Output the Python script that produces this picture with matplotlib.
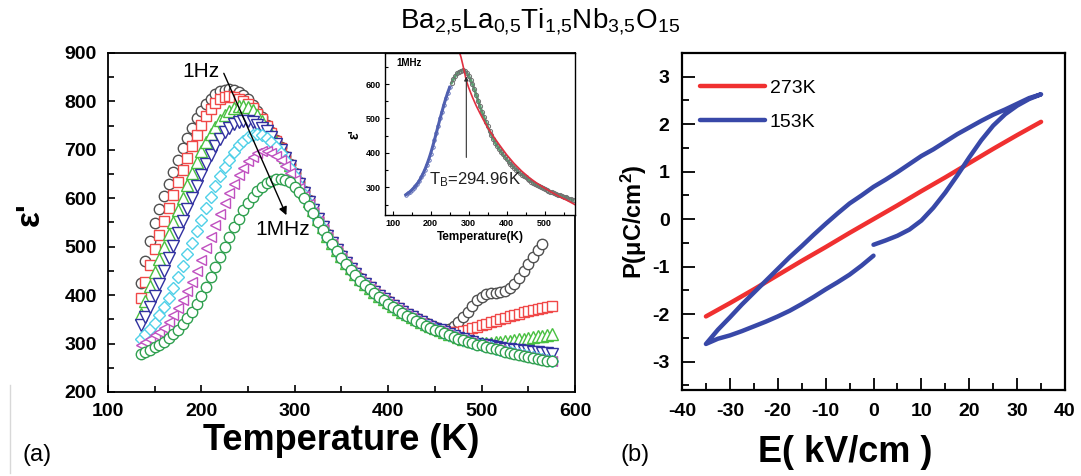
import matplotlib
matplotlib.use("Agg")
import matplotlib.pyplot as plt
from matplotlib.ticker import MultipleLocator
from matplotlib.lines import Line2D

plt.rcParams['font.family'] = ['Liberation Sans', 'DejaVu Sans']
plt.rcParams['mathtext.fontset'] = 'custom'
plt.rcParams['mathtext.rm'] = 'Liberation Sans'
plt.rcParams['mathtext.it'] = 'Liberation Sans:italic'
plt.rcParams['mathtext.bf'] = 'Liberation Sans:bold'
plt.rcParams['axes.unicode_minus'] = False

# (a) permittivity vs temperature, 1Hz ... 1MHz, read every 5 K
temp = list(range(135, 580, 5))

eps_1 = [425, 470, 512, 548, 578, 604, 630, 655, 679, 703,
         725, 746, 765, 781, 795, 806, 815, 821, 824, 825,
         824, 820, 813, 804, 793, 781, 767, 752, 737, 721,
         705, 688, 670, 652, 633, 614, 596, 578, 560, 543,
         526, 510, 496, 482, 469, 457, 446, 435, 426, 417,
         409, 401, 394, 387, 380, 374, 368, 362, 357, 352,
         347, 342, 338, 334, 331, 329, 331, 337, 345, 355,
         366, 378, 389, 397, 402, 404, 405, 406, 409, 414,
         423, 435, 449, 464, 479, 493, 505]
eps_2 = [395, 428, 462, 495, 525, 553, 580, 607, 633, 659,
         684, 708, 731, 752, 770, 785, 797, 805, 810, 811,
         810, 806, 801, 795, 786, 775, 763, 749, 734, 719,
         703, 686, 669, 651, 632, 613, 595, 577, 559, 542,
         524, 509, 495, 481, 468, 456, 445, 434, 425, 416,
         408, 400, 393, 386, 379, 373, 367, 361, 356, 351,
         346, 341, 337, 333, 329, 326, 324, 323, 324, 326,
         329, 332, 335, 338, 341, 344, 347, 350, 353, 356,
         359, 362, 365, 367, 370, 372, 374, 376, 378]
eps_3 = [362, 388, 418, 447, 474, 500, 526, 551, 576, 601,
         627, 652, 675, 697, 716, 733, 748, 761, 771, 780,
         786, 790, 791, 789, 783, 772, 760, 746, 732, 717,
         701, 685, 668, 650, 631, 612, 594, 576, 558, 541,
         523, 508, 494, 480, 467, 455, 444, 433, 424, 415,
         407, 399, 392, 385, 378, 372, 366, 360, 355, 350,
         345, 340, 336, 332, 328, 324, 320, 317, 313, 310,
         307, 305, 303, 302, 302, 302, 303, 304, 305, 306,
         307, 309, 310, 312, 313, 315, 316, 318, 320]
eps_4 = [338, 355, 376, 399, 424, 450, 476, 502, 528, 553,
         577, 601, 625, 648, 670, 690, 708, 723, 736, 746,
         753, 758, 760, 760, 757, 752, 746, 738, 726, 713,
         699, 683, 666, 648, 630, 611, 593, 575, 557, 540,
         522, 507, 493, 479, 466, 454, 443, 432, 423, 414,
         406, 398, 391, 384, 377, 371, 365, 359, 354, 349,
         344, 339, 335, 331, 327, 323, 319, 316, 312, 309,
         306, 303, 300, 298, 296, 294, 292, 291, 289, 288,
         287, 286, 285, 284, 283, 282, 281, 280, 279]
eps_5 = [310, 320, 331, 343, 358, 375, 394, 415, 437, 460,
         484, 508, 532, 556, 580, 603, 626, 646, 664, 680,
         696, 709, 719, 726, 730, 733, 731, 724, 716, 705,
         693, 678, 662, 645, 628, 609, 591, 573, 556, 539,
         521, 506, 492, 478, 465, 453, 442, 431, 422, 413,
         405, 397, 390, 383, 376, 370, 364, 358, 353, 348,
         343, 338, 334, 330, 326, 322, 318, 315, 311, 308,
         305, 302, 299, 297, 294, 292, 289, 287, 284, 282,
         280, 278, 276, 274, 272, 270, 268, 266, 264]
eps_6 = [298, 304, 310, 317, 324, 333, 344, 358, 373, 390,
         408, 428, 450, 473, 497, 521, 545, 568, 590, 611,
         630, 648, 663, 676, 686, 693, 697, 698, 694, 688,
         678, 666, 653, 638, 622, 605, 588, 571, 554, 537,
         520, 505, 491, 477, 464, 452, 441, 430, 421, 412,
         404, 396, 389, 382, 375, 369, 363, 357, 352, 347,
         342, 337, 333, 329, 325, 321, 317, 314, 310, 307,
         304, 301, 298, 296, 293, 291, 288, 286, 283, 281,
         279, 277, 275, 273, 271, 269, 267, 265, 263]
eps_7 = [279, 283, 287, 292, 298, 304, 311, 319, 329, 340,
         352, 366, 381, 398, 417, 437, 458, 479, 500, 520,
         540, 558, 575, 590, 603, 614, 623, 631, 636, 639,
         640, 638, 633, 624, 613, 600, 585, 569, 552, 535,
         520, 505, 491, 477, 464, 452, 441, 430, 421, 412,
         404, 396, 389, 382, 375, 369, 363, 357, 352, 347,
         342, 337, 333, 329, 325, 321, 317, 314, 310, 307,
         304, 301, 298, 296, 293, 291, 288, 286, 283, 281,
         279, 277, 275, 273, 271, 269, 267, 265, 263]

series = [(eps_1, '#505050', 'o', 7.5),
          (eps_2, '#f04848', 's', 7.0),
          (eps_3, '#48c040', '^', 8.0),
          (eps_4, '#3030a0', 'v', 8.0),
          (eps_5, '#50d0e8', 'D', 6.0),
          (eps_6, '#c050c0', '<', 7.5),
          (eps_7, '#30a050', 'o', 7.5)]

# inset: Curie-Weiss type fit at 1MHz
fit_t = [276, 280, 285, 290, 294, 300, 310, 320, 330, 340, 350, 364,
         380, 400, 420, 440, 460, 480, 500, 520, 540, 560, 580]
fit_eps = [692, 678, 655, 630, 610, 590, 562, 537, 515, 494, 474, 450,
           425, 395, 369, 347, 328, 312, 298, 285, 273, 262, 250]

# (b) P-E loops
e_273 = [-35, -30, -25, -20, -15, -10, -5, 0, 5, 10, 15, 20, 25, 30, 35]
p_273 = [-2.05, -1.77, -1.48, -1.18, -0.88, -0.59, -0.29, 0.0,
         0.29, 0.59, 0.88, 1.18, 1.48, 1.77, 2.05]

# 153K loop: rising branch from 0, falling branch, return branch to 0
e_153 = [0, 2.5, 5, 7.5, 10, 12.5, 15, 17.5, 20, 22.5, 25, 27.5, 30, 32.5, 35,
         32.5, 30, 27.5, 25, 22.5, 20, 17.5, 15, 12.5, 10, 7.5, 5, 2.5, 0,
         -2.5, -5, -7.5, -10, -12.5, -15, -17.5, -20, -22.5, -25, -27.5, -30, -32.5, -35,
         -32.5, -30, -27.5, -25, -22.5, -20, -17.5, -15, -12.5, -10, -7.5, -5, -2.5, 0]
p_153 = [-0.54, -0.45, -0.35, -0.22, -0.03, 0.24, 0.56, 0.92, 1.30, 1.66, 1.97, 2.21, 2.39, 2.53, 2.63,
         2.55, 2.43, 2.31, 2.20, 2.07, 1.93, 1.79, 1.63, 1.47, 1.33, 1.16, 0.99, 0.83, 0.68,
         0.50, 0.33, 0.12, -0.10, -0.33, -0.57, -0.80, -1.05, -1.30, -1.55, -1.80, -2.07, -2.33, -2.63,
         -2.52, -2.45, -2.36, -2.26, -2.16, -2.05, -1.93, -1.79, -1.64, -1.48, -1.33, -1.17, -0.98, -0.77]

fig = plt.figure(figsize=(10.81, 4.76), dpi=100)

# ---- panel (a)
ax = fig.add_axes([0.0999, 0.1765, 0.4320, 0.7122])
for vals, color, marker, ms in series:
    ax.plot(temp[:len(vals)], vals, ls='none', marker=marker, ms=ms,
            mfc='white', mec=color, mew=1.0)
ax.set_xlim(100, 600)
ax.set_ylim(200, 900)
ax.xaxis.set_major_locator(MultipleLocator(100))
ax.xaxis.set_minor_locator(MultipleLocator(50))
ax.yaxis.set_major_locator(MultipleLocator(100))
ax.yaxis.set_minor_locator(MultipleLocator(50))
ax.tick_params(which='both', direction='in', width=1.2)
ax.tick_params(which='major', length=5, labelsize=14, pad=8)
ax.tick_params(which='minor', length=4)
for lab in ax.get_xticklabels() + ax.get_yticklabels():
    lab.set_fontweight('bold')
for sp in ax.spines.values():
    sp.set_linewidth(1.3)

ax.annotate('', xy=(291, 565), xytext=(224, 858),
            arrowprops=dict(arrowstyle='-|>', color='black', lw=1.0,
                            mutation_scale=12, shrinkA=0, shrinkB=0))
ax.text(200, 861, '1Hz', fontsize=15, ha='center', va='center')
ax.text(287, 536, '1MHz', fontsize=15, ha='center', va='center')

fig.text(341 / 1081, 1 - 441 / 476, 'Temperature (K)', fontsize=26,
         fontweight='bold', ha='center', va='center')
fig.text(30 / 1081, 1 - 214 / 476, "ε'", fontsize=24, fontweight='bold',
         rotation=90, ha='center', va='center')

# ---- inset
ins = fig.add_axes([385 / 1081, 1 - 215 / 476, 190 / 1081, 162 / 476])
rise = [t <= 250 for t in temp]
ins.plot([t for t, r in zip(temp, rise) if r], [v for v, r in zip(eps_7, rise) if r],
         ls='-', lw=2.2, color='#5060b0', marker='o', ms=2.5, mfc='none', mew=0.6)
ins.plot([t for t, r in zip(temp, rise) if not r], [v for v, r in zip(eps_7, rise) if not r],
         ls='-', lw=2.0, color='#58a070', marker='o', ms=3, mfc='none',
         mec='#707070', mew=0.7)
ins.plot(fit_t, fit_eps, color='#e03040', lw=1.2)
ins.set_xlim(80, 580)
ins.set_ylim(220, 690)
ins.xaxis.set_major_locator(MultipleLocator(100))
ins.xaxis.set_minor_locator(MultipleLocator(50))
ins.yaxis.set_minor_locator(MultipleLocator(50))
ins.set_yticks([300, 400, 500, 600])
ins.tick_params(which='both', direction='in', width=0.8, labelsize=6.5, pad=3)
ins.tick_params(which='major', length=3)
ins.tick_params(which='minor', length=2)
for lab in ins.get_xticklabels() + ins.get_yticklabels():
    lab.set_fontweight('bold')
for sp in ins.spines.values():
    sp.set_linewidth(1.0)
ins.set_xlabel('Temperature(K)', fontsize=8.5, fontweight='bold', labelpad=2)
ins.set_ylabel("ε'", fontsize=10, fontweight='bold', labelpad=3)
ins.text(0.06, 0.97, '1MHz', transform=ins.transAxes, fontsize=7,
         fontweight='bold', ha='left', va='top')
ins.annotate('', xy=(294, 622), xytext=(294, 387),
             arrowprops=dict(arrowstyle='-|>', color='#303030', lw=0.8,
                             mutation_scale=6, shrinkA=0, shrinkB=0))
ins.text(197, 324, r'T$_\mathrm{B}$=294.96K', fontsize=12, ha='left',
         va='center', color='#202020')

# ---- panel (b)
bx = fig.add_axes([682 / 1081, 1 - 390 / 476, 383 / 1081, 337 / 476])
bx.plot(e_273, p_273, color='#f03030', lw=3.2, label='273K',
        solid_capstyle='round')
bx.plot(e_153, p_153, color='#3848a8', lw=3.2, label='153K',
        solid_capstyle='round', solid_joinstyle='round')
bx.set_xlim(-40, 40)
bx.set_ylim(-3.6, 3.5)
bx.xaxis.set_major_locator(MultipleLocator(10))
bx.xaxis.set_minor_locator(MultipleLocator(5))
bx.yaxis.set_major_locator(MultipleLocator(1))
bx.yaxis.set_minor_locator(MultipleLocator(0.5))
bx.tick_params(which='both', direction='in', width=1.3)
bx.tick_params(which='major', length=9, labelsize=14, pad=9)
bx.tick_params(which='minor', length=5)
for lab in bx.get_xticklabels() + bx.get_yticklabels():
    lab.set_fontweight('bold')
for sp in bx.spines.values():
    sp.set_linewidth(1.6)
bx.legend(loc='upper left', bbox_to_anchor=(0.026, 0.945), frameon=False,
          fontsize=14, handlelength=3.35, handletextpad=0.25,
          labelspacing=0.85, borderaxespad=0)

fig.text(845 / 1081, 1 - 452 / 476, 'E( kV/cm )', fontsize=26,
         fontweight='bold', ha='center', va='center')
fig.text(634 / 1081, 1 - 222 / 476, r'P(μC/cm$^{\mathbf{2}}$)', fontsize=17,
         fontweight='bold', rotation=90, ha='center', va='center')

# ---- title and panel letters
fig.text(540 / 1081, 1 - 22 / 476,
         r'Ba$_{2{,}5}$La$_{0{,}5}$Ti$_{1{,}5}$Nb$_{3{,}5}$O$_{15}$',
         fontsize=20, ha='center', va='center')
fig.text(22 / 1081, 1 - 455 / 476, '(a)', fontsize=17, ha='left', va='center')
fig.text(620 / 1081, 1 - 455 / 476, '(b)', fontsize=17, ha='left', va='center')
fig.add_artist(Line2D([10 / 1081, 10 / 1081], [1 - 473 / 476, 1 - 385 / 476],
                      color='#d8d8d8', lw=1))

fig.savefig('out.png', dpi=100)
